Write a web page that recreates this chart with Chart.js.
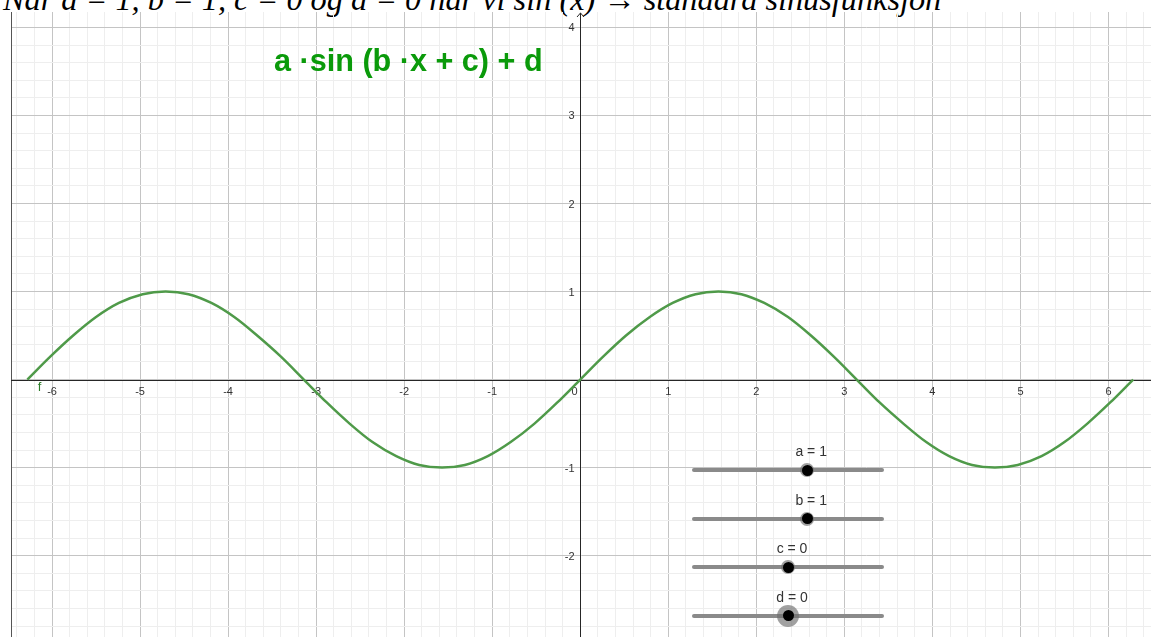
<!DOCTYPE html>
<html lang="no">
<head>
<meta charset="UTF-8" />
<title>a·sin(b·x + c) + d</title>
<script src="https://cdn.jsdelivr.net/npm/chart.js"></script>
<style>
  html, body { margin: 0; padding: 0; width: 1151px; height: 637px; background: #fff; overflow: hidden; }
  .heading {
    position: absolute; left: 3px; top: -17px; white-space: nowrap;
    font-family: "Liberation Serif", "Times New Roman", serif; font-style: italic;
    font-size: 32.3px; line-height: 32.3px; color: #000;
  }
  .wrap { position: absolute; left: 11px; top: 12px; width: 1140px; height: 625px; }
  .formula {
    position: absolute; left: 274px; top: 45px; white-space: nowrap;
    font-family: "Liberation Sans", Arial, sans-serif; font-weight: bold;
    font-size: 30.6px; line-height: 30.6px; color: #0a9a0a;
  }
  .track { position: absolute; height: 4px; border-radius: 2px; background: #8a8a8a; }
  .knob { position: absolute; border-radius: 50%; background: #000; }
  .halo { position: absolute; border-radius: 50%; background: rgba(110,110,110,0.65); }
  .slabel {
    position: absolute; white-space: nowrap; transform: translate(-50%, -50%);
    font-family: "Liberation Sans", Arial, sans-serif; font-size: 14px; color: #333;
  }
</style>
</head>
<body>
<div class="heading">Når a = 1, b = 1, c = 0 og d = 0 har vi sin (x) → standard sinusfunksjon</div>
<div class="wrap"><canvas id="graph" width="1140" height="625"></canvas></div>
<div class="formula">a ·sin (b ·x + c) + d</div>
<div id="sliders"></div>
<script>
const xs = [-6.28, -6.02, -5.76, -5.50, -5.24, -4.97, -4.71, -4.45, -4.19, -3.93, -3.67, -3.40,
            -3.14, -2.88, -2.62, -2.36, -2.09, -1.83, -1.57, -1.31, -1.05, -0.79, -0.52, -0.26,
            0, 0.26, 0.52, 0.79, 1.05, 1.31, 1.57, 1.83, 2.09, 2.36, 2.62, 2.88,
            3.14, 3.40, 3.67, 3.93, 4.19, 4.45, 4.71, 4.97, 5.24, 5.50, 5.76, 6.02, 6.28];
const ys = [0, 0.26, 0.50, 0.71, 0.87, 0.97, 1.00, 0.97, 0.87, 0.71, 0.50, 0.26,
            0, -0.26, -0.50, -0.71, -0.87, -0.97, -1.00, -0.97, -0.87, -0.71, -0.50, -0.26,
            0, 0.26, 0.50, 0.71, 0.87, 0.97, 1.00, 0.97, 0.87, 0.71, 0.50, 0.26,
            0, -0.26, -0.50, -0.71, -0.87, -0.97, -1.00, -0.97, -0.87, -0.71, -0.50, -0.26, 0];
const xTicks = [-6, -5, -4, -3, -2, -1, 0, 1, 2, 3, 4, 5, 6];
const yTicks = [-2, -1, 1, 2, 3, 4];

// sliders: name, value, range -5..5
const sliderNames = ['a', 'b', 'c', 'd'];
const sliderValues = [1, 1, 0, 0];
const sliderMin = -5, sliderMax = 5;

const isMajor = v => Math.abs(v - Math.round(v)) < 1e-6;
const gridColor = ctx => {
  const v = ctx.tick.value;
  return isMajor(v) ? '#c4c4c4' : '#eeeeee';
};

const axesPlugin = {
  id: 'geoAxes',
  beforeDatasetsDraw(chart) {
    const {ctx, chartArea: a, scales: {x, y}} = chart;
    const x0 = Math.round(x.getPixelForValue(0)) + 0.5;
    const y0 = Math.round(y.getPixelForValue(0)) + 0.5;
    ctx.save();
    ctx.strokeStyle = '#262626';
    ctx.lineWidth = 1;
    ctx.beginPath();
    ctx.moveTo(a.left, y0); ctx.lineTo(a.right, y0);
    ctx.moveTo(x0, a.bottom); ctx.lineTo(x0, a.top + 1);
    ctx.moveTo(x0 - 3.5, a.top + 5); ctx.lineTo(x0, a.top + 1); ctx.lineTo(x0 + 3.5, a.top + 5);
    ctx.stroke();
    ctx.fillStyle = '#333';
    ctx.font = '11px "Liberation Sans", Arial, sans-serif';
    ctx.textBaseline = 'middle';
    xTicks.forEach(v => {
      if (v === 0) {
        ctx.textAlign = 'right';
        ctx.fillText('0', x0 - 3, y0 + 11);
      } else {
        ctx.textAlign = 'center';
        ctx.fillText(String(v), x.getPixelForValue(v), y0 + 11);
      }
    });
    ctx.textAlign = 'right';
    yTicks.forEach(v => ctx.fillText(String(v), x0 - 6, y.getPixelForValue(v) + 1));
    // function name
    ctx.fillStyle = '#2e7d2a';
    ctx.font = '13px "Liberation Sans", Arial, sans-serif';
    ctx.textAlign = 'left';
    ctx.fillText('f', x.getPixelForValue(-6.48) + 28, y0 + 7);
    ctx.restore();
  }
};

const chart = new Chart(document.getElementById('graph'), {
  type: 'scatter',
  data: {
    datasets: [{
      label: 'f',
      data: xs.map((v, i) => ({x: v, y: ys[i]})),
      showLine: true,
      borderColor: '#4f9a49',
      borderWidth: 2.5,
      pointRadius: 0,
      cubicInterpolationMode: 'monotone'
    }]
  },
  options: {
    responsive: false,
    animation: false,
    layout: {padding: 0},
    plugins: {legend: {display: false}, tooltip: {enabled: false}},
    scales: {
      x: {
        type: 'linear', min: -6.466, max: 6.483,
        ticks: {display: false, stepSize: 0.2, includeBounds: false},
        grid: {color: gridColor, drawTicks: false},
        border: {display: false}
      },
      y: {
        type: 'linear', min: -2.924, max: 4.175,
        ticks: {display: false, stepSize: 0.2, includeBounds: false},
        grid: {color: gridColor, drawTicks: false},
        border: {display: true, color: '#555', width: 1}
      }
    }
  },
  plugins: [axesPlugin]
});

// slider widgets, placed like the GeoGebra view
(function drawSliders() {
  const holder = document.getElementById('sliders');
  const left = 692, width = 192;
  const rows = [470, 518.5, 567, 615.5];
  sliderNames.forEach((name, i) => {
    const cy = rows[i];
    const cx = left + (sliderValues[i] - sliderMin) / (sliderMax - sliderMin) * width;
    const track = document.createElement('div');
    track.className = 'track';
    Object.assign(track.style, {left: left + 'px', top: (cy - 2) + 'px', width: width + 'px'});
    holder.appendChild(track);
    const hr = i === 3 ? 11 : 7;
    const halo = document.createElement('div');
    halo.className = 'halo';
    Object.assign(halo.style, {left: (cx - hr) + 'px', top: (cy - hr) + 'px', width: 2 * hr + 'px', height: 2 * hr + 'px'});
    holder.appendChild(halo);
    const knob = document.createElement('div');
    knob.className = 'knob';
    Object.assign(knob.style, {left: (cx - 5.5) + 'px', top: (cy - 5.5) + 'px', width: '11px', height: '11px'});
    holder.appendChild(knob);
    const lab = document.createElement('div');
    lab.className = 'slabel';
    lab.textContent = name + ' = ' + sliderValues[i];
    Object.assign(lab.style, {left: (cx + 4) + 'px', top: (cy - 19) + 'px'});
    holder.appendChild(lab);
  });
})();
</script>
</body>
</html>
